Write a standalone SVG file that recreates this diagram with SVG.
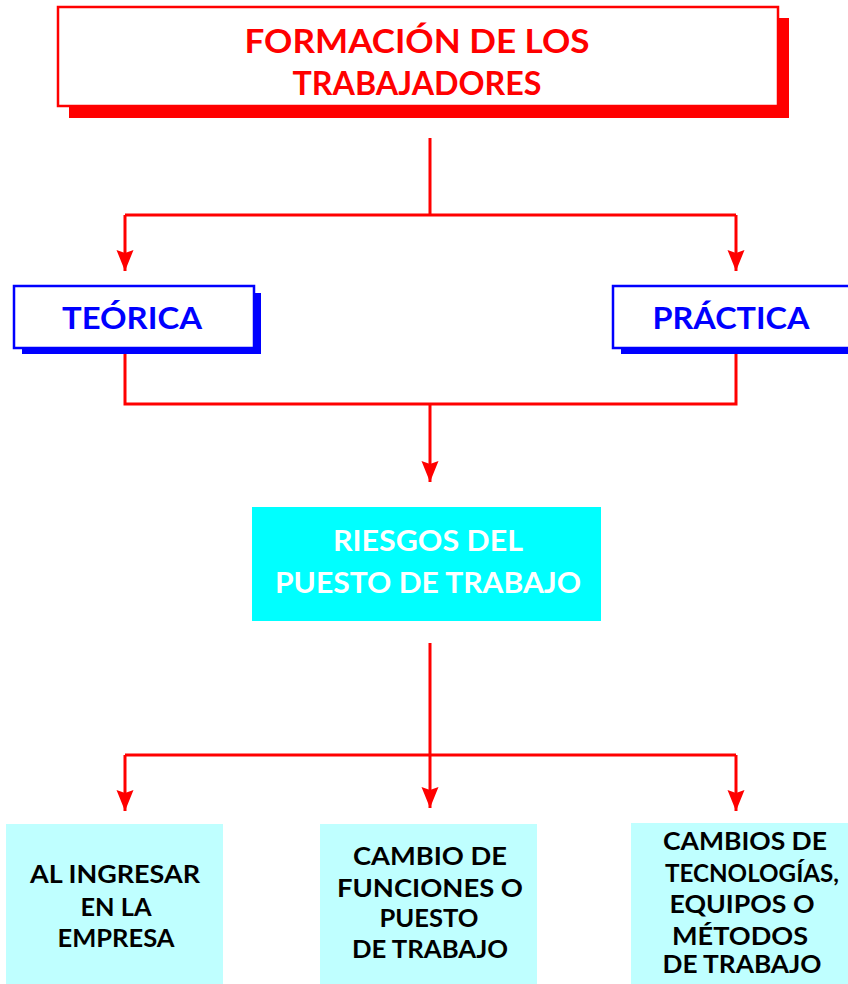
<svg xmlns="http://www.w3.org/2000/svg" width="848" height="984" viewBox="0 0 848 984">
<style>
.red{fill:#FF0000}
.frame{fill:#FFFFFF;stroke:#FF0000;stroke-width:2.5}
.bframe{fill:#FFFFFF;stroke:#0000FF;stroke-width:2.5}
.bsh{fill:#0000FF}
.t{font-family:Lato,"Open Sans","DejaVu Sans",sans-serif;text-anchor:middle}
.title{font-size:32px;fill:#FF0000;font-weight:bold}
.blue{font-size:31px;fill:#0000FF;font-weight:bold}
.wh{font-size:28px;fill:#FFFFFF;font-weight:bold}
.blk{font-size:25px;fill:#000000;font-weight:bold}
.con{stroke:#FF0000;stroke-width:3;fill:none}
</style>
<defs>
<marker id="arr" markerUnits="userSpaceOnUse" markerWidth="22" markerHeight="18" refX="21" refY="9" orient="auto">
<path d="M0,0.5 L21,9 L0,17.5 L3,9 z" fill="#FF0000"/>
</marker>
</defs>

<g id="connectors">
<path class="con" d="M430,138 V215 M125,215 H736"/>
<path class="con" d="M125,215 V271" marker-end="url(#arr)"/>
<path class="con" d="M736,215 V271" marker-end="url(#arr)"/>
<path class="con" d="M125,354 V404 H736 V354"/>
<path class="con" d="M430,404 V482" marker-end="url(#arr)"/>
<path class="con" d="M430,643 V755 M125,755 H736"/>
<path class="con" d="M430,755 V808" marker-end="url(#arr)"/>
<path class="con" d="M125,755 V811" marker-end="url(#arr)"/>
<path class="con" d="M736,755 V811" marker-end="url(#arr)"/>
</g>

<g id="formacion">
<rect class="red" x="69" y="18" width="720" height="100"/>
<rect class="frame" x="58" y="7" width="720" height="99"/>
<text class="t title" x="417" y="53" textLength="345" lengthAdjust="spacingAndGlyphs">FORMACIÓN DE LOS</text>
<text class="t title" x="417" y="95" textLength="249" lengthAdjust="spacingAndGlyphs">TRABAJADORES</text>
</g>

<g id="teorica">
<rect class="bsh" x="22" y="293" width="239" height="61"/>
<rect class="bframe" x="14" y="286" width="240" height="62"/>
<text class="t blue" x="132" y="329" textLength="140" lengthAdjust="spacingAndGlyphs">TEÓRICA</text>
</g>

<g id="practica">
<rect class="bsh" x="621" y="293" width="240" height="61"/>
<rect class="bframe" x="613" y="286" width="250" height="62"/>
<text class="t blue" x="731" y="329" textLength="157" lengthAdjust="spacingAndGlyphs">PRÁCTICA</text>
</g>

<g id="riesgos">
<rect x="252" y="507" width="349" height="114" fill="#00FFFF"/>
<text class="t wh" x="428" y="551" textLength="190" lengthAdjust="spacingAndGlyphs">RIESGOS DEL</text>
<text class="t wh" x="428" y="593" textLength="306" lengthAdjust="spacingAndGlyphs">PUESTO DE TRABAJO</text>
</g>

<g id="ingresar">
<rect x="6" y="824" width="217" height="160" fill="#BFFFFF"/>
<text class="t blk" x="115" y="883" textLength="170" lengthAdjust="spacingAndGlyphs">AL INGRESAR</text>
<text class="t blk" x="116" y="916" textLength="71" lengthAdjust="spacingAndGlyphs">EN LA</text>
<text class="t blk" x="116" y="947" textLength="117" lengthAdjust="spacingAndGlyphs">EMPRESA</text>
</g>

<g id="cambio-funciones">
<rect x="320" y="824" width="217" height="160" fill="#BFFFFF"/>
<text class="t blk" x="430" y="865" textLength="154" lengthAdjust="spacingAndGlyphs">CAMBIO DE</text>
<text class="t blk" x="430" y="897" textLength="186" lengthAdjust="spacingAndGlyphs">FUNCIONES O</text>
<text class="t blk" x="429" y="927" textLength="99" lengthAdjust="spacingAndGlyphs">PUESTO</text>
<text class="t blk" x="430" y="958" textLength="156" lengthAdjust="spacingAndGlyphs">DE TRABAJO</text>
</g>

<g id="cambios-tecnologias">
<rect x="631" y="823" width="217" height="161" fill="#BFFFFF"/>
<text class="t blk" x="745" y="850" textLength="164" lengthAdjust="spacingAndGlyphs">CAMBIOS DE</text>
<text class="t blk" x="752" y="882" textLength="174" lengthAdjust="spacingAndGlyphs">TECNOLOGÍAS,</text>
<text class="t blk" x="742" y="913" textLength="145" lengthAdjust="spacingAndGlyphs">EQUIPOS O</text>
<text class="t blk" x="740" y="945" textLength="136" lengthAdjust="spacingAndGlyphs">MÉTODOS</text>
<text class="t blk" x="742" y="973" textLength="159" lengthAdjust="spacingAndGlyphs">DE TRABAJO</text>
</g>
</svg>
